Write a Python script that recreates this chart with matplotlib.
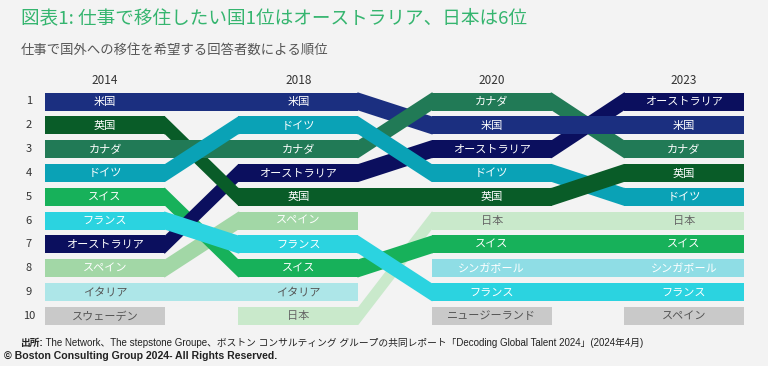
import matplotlib
matplotlib.use('Agg')
import matplotlib.pyplot as plt
from matplotlib.patches import Polygon, Rectangle
from matplotlib import font_manager

# ---------------- data ----------------
years = ['2014', '2018', '2020', '2023']
ranking_2014 = ['米国', '英国', 'カナダ', 'ドイツ', 'スイス', 'フランス', 'オーストラリア', 'スペイン', 'イタリア', 'スウェーデン']
ranking_2018 = ['米国', 'ドイツ', 'カナダ', 'オーストラリア', '英国', 'スペイン', 'フランス', 'スイス', 'イタリア', '日本']
ranking_2020 = ['カナダ', '米国', 'オーストラリア', 'ドイツ', '英国', '日本', 'スイス', 'シンガポール', 'フランス', 'ニュージーランド']
ranking_2023 = ['オーストラリア', '米国', 'カナダ', '英国', 'ドイツ', '日本', 'スイス', 'シンガポール', 'フランス', 'スペイン']
rankings = [ranking_2014, ranking_2018, ranking_2020, ranking_2023]
rank_labels = [str(i) for i in range(1, 11)]

title = '図表1: 仕事で移住したい国1位はオーストラリア、日本は6位'
subtitle = '仕事で国外への移住を希望する回答者数による順位'
source_head = '出所:'
source_body = ' The Network、The stepstone Groupe、ボストン コンサルティング グループの共同レポート「Decoding Global Talent 2024」(2024年4月)'
copyright_text = '© Boston Consulting Group 2024- All Rights Reserved.'

# ---------------- style ----------------
BG = '#f3f3f3'
colors = {
    '米国': '#1b2f80', '英国': '#095c28', 'カナダ': '#217a56', 'ドイツ': '#0aa2b6',
    'スイス': '#17b15a', 'フランス': '#2bd3e0', 'オーストラリア': '#0b0f5e',
    'スペイン': '#a2d7a6', 'イタリア': '#ade6e8', 'スウェーデン': '#c9c9c9',
    '日本': '#c9e9cb', 'シンガポール': '#8fdde5', 'ニュージーランド': '#c9c9c9',
}
ISOLATED_COLOR = '#c9c9c9'
dark_text = {'イタリア': '#555555', '日本': '#666666'}
band_z = {
    0: {'ドイツ': 10, 'カナダ': 9, 'フランス': 9, '英国': 8, 'オーストラリア': 7, 'スイス': 6},
    1: {'ドイツ': 10, 'フランス': 10, 'カナダ': 9, 'スイス': 8, '米国': 7, 'オーストラリア': 7, '日本': 6},
    2: {'米国': 10, 'オーストラリア': 9, '英国': 8.5, 'カナダ': 8, 'ドイツ': 7},
}
CJK = ['Noto Sans CJK JP', 'DejaVu Sans']
names = {f.name for f in font_manager.fontManager.ttflist}
NARROW = 'Liberation Sans Narrow' if 'Liberation Sans Narrow' in names else 'Liberation Sans'

W, H = 768, 366
COL_X = [45, 238.3, 431.7, 624]
COL_W = 120
ROW0, ROW_STEP, BAR_H = 101.5, 23.83, 18.0


def row_y(rank):
    return ROW0 + (rank - 1) * ROW_STEP


fig = plt.figure(figsize=(W / 100, H / 100), dpi=100, facecolor=BG)
ax = fig.add_axes([0, 0, 1, 1])
ax.set_xlim(0, W)
ax.set_ylim(H, 0)
ax.axis('off')
ax.set_facecolor(BG)

# blocks
for i, rk in enumerate(rankings):
    prev_set = set(rankings[i - 1]) if i > 0 else set()
    next_set = set(rankings[i + 1]) if i < len(rankings) - 1 else set()
    for r, c in enumerate(rk, start=1):
        isolated = c not in prev_set and c not in next_set
        col = ISOLATED_COLOR if isolated else colors[c]
        y = row_y(r)
        ax.add_patch(Rectangle((COL_X[i], y - BAR_H / 2), COL_W, BAR_H,
                               facecolor=col, edgecolor='none', zorder=2))
        tcol = '#555555' if isolated else dark_text.get(c, 'white')
        ax.text(COL_X[i] + COL_W / 2, y + 0.5, c, ha='center', va='center',
                fontsize=8, color=tcol, family=CJK, zorder=30)

# bands
eps = 1.0
for i in range(len(rankings) - 1):
    a, b = rankings[i], rankings[i + 1]
    for c in a:
        if c not in b:
            continue
        ya = row_y(a.index(c) + 1)
        yb = row_y(b.index(c) + 1)
        xa = COL_X[i] + COL_W
        xb = COL_X[i + 1]
        h = BAR_H / 2
        pts = [(xa - eps, ya - h), (xa, ya - h), (xb, yb - h), (xb + eps, yb - h),
               (xb + eps, yb + h), (xb, yb + h), (xa, ya + h), (xa - eps, ya + h)]
        ax.add_patch(Polygon(pts, closed=True, facecolor=colors[c], edgecolor='none',
                             zorder=band_z[i].get(c, 5)))

# year headers
for i, yr in enumerate(years):
    ax.text(COL_X[i] + COL_W / 2, 80, yr, ha='center', va='center',
            fontsize=8.5, color='#333333', family=CJK)

# rank numbers
for r, lab in enumerate(rank_labels, start=1):
    ax.text(29, row_y(r), lab, ha='center', va='center', fontsize=8,
            color='#333333', family=CJK)

# titles
ax.text(21, 18.5, title, ha='left', va='center', fontsize=13.4, color='#35b56f', family=CJK)
ax.text(21, 49.5, subtitle, ha='left', va='center', fontsize=9.6, color='#555555', family=CJK)

# footer
fam_f = [NARROW, 'Noto Sans CJK JP']
t1 = ax.text(20, 343, source_head, ha='left', va='center', fontsize=7, color='#222222',
             family=fam_f, fontweight='bold')
fig.canvas.draw()
x_after = ax.transData.inverted().transform((t1.get_window_extent().x1, 0))[0]
ax.text(x_after, 343, source_body, ha='left', va='center', fontsize=7, color='#222222',
        family=fam_f)
ax.text(4, 356, copyright_text, ha='left', va='center', fontsize=7.55, color='#222222',
        family=fam_f, fontweight='bold')

fig.savefig('out.png', dpi=100, facecolor=BG)
